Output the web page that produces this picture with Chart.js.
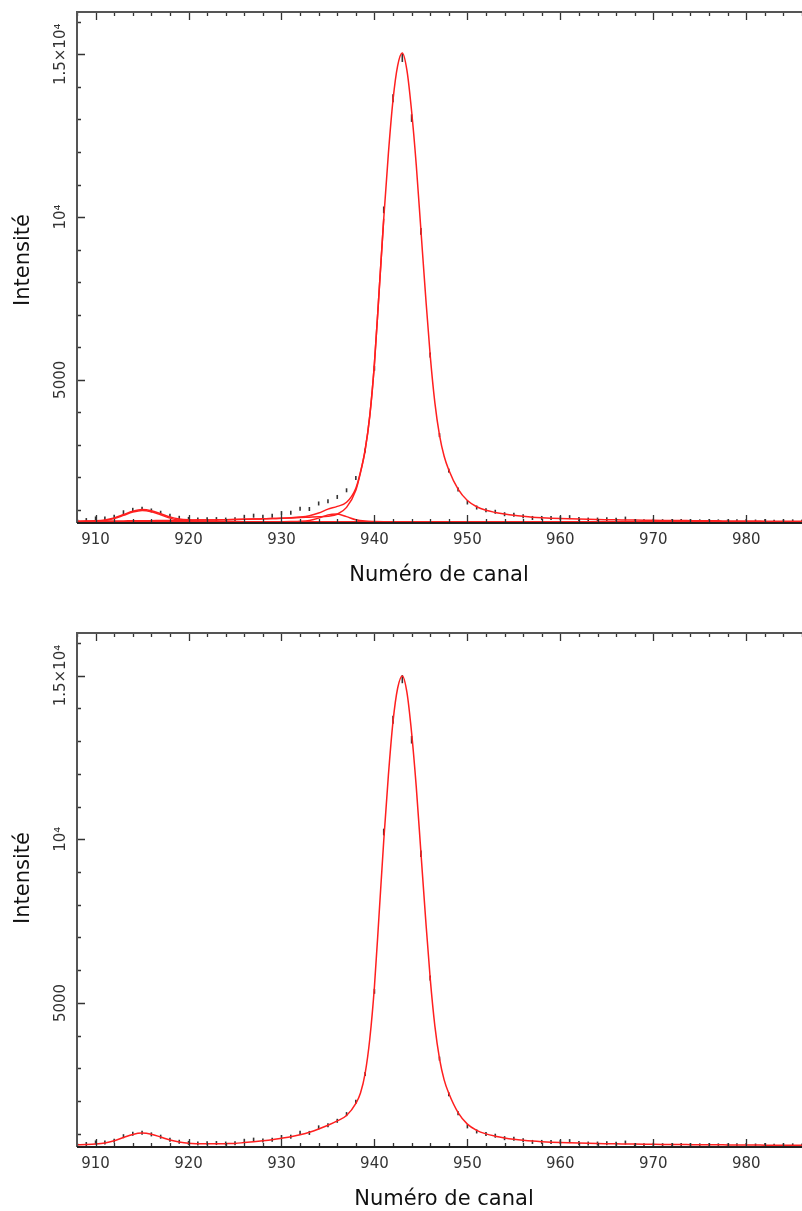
<!DOCTYPE html>
<html lang="fr">
<head>
<meta charset="utf-8">
<title>Intensité - Numéro de canal</title>
<script src="https://cdn.jsdelivr.net/npm/chart.js@4/dist/chart.umd.min.js"></script>
<style>
  html, body { margin: 0; padding: 0; background: #fff; }
  canvas { display: block; }
</style>
</head>
<body>
<canvas id="topChart" width="802" height="605"></canvas>
<canvas id="bottomChart" width="802" height="606"></canvas>
<script>
// Measured spectrum (one value per channel)
const channels = [909, 910, 911, 912, 913, 914, 915, 916, 917, 918, 919, 920, 921, 922, 923, 924, 925, 926, 927, 928,
  929, 930, 931, 932, 933, 934, 935, 936, 937, 938, 939, 940, 941, 942, 943, 944, 945, 946, 947, 948,
  949, 950, 951, 952, 953, 954, 955, 956, 957, 958, 959, 960, 961, 962, 963, 964, 965, 966, 967, 968,
  969, 970, 971, 972, 973, 974, 975, 976, 977, 978, 979, 980, 981, 982, 983, 984, 985, 986];
const counts = [690, 740, 735, 790, 930, 1005, 1035, 985, 915, 820, 760, 725, 705, 715, 720, 705, 715, 790, 825, 795,
  820, 905, 915, 1035, 1030, 1200, 1265, 1400, 1605, 1985, 2830, 5355, 10220, 13650, 14890, 13040, 9560, 5760, 3300, 2210,
  1630, 1230, 1075, 995, 945, 870, 850, 805, 755, 755, 750, 750, 780, 725, 705, 705, 712, 702, 735, 660,
  650, 670, 655, 650, 660, 655, 650, 655, 650, 645, 655, 660, 645, 650, 640, 645, 650, 640];

// Fit curves
const fitChannels = [908, 909, 910, 911, 912, 913, 914, 915, 916, 917, 918, 919, 920, 921, 922, 923, 924, 925, 926, 927,
  928, 929, 930, 931, 932, 933, 934, 935, 936, 937, 938,
  938.5, 939, 939.5, 940, 940.5, 941, 941.5, 942, 942.5, 943, 943.5, 944, 944.5, 945, 945.5, 946, 946.5, 947, 947.5, 948,
  949, 950, 951, 952, 953, 954, 955, 956, 957, 958, 959, 960, 961, 962, 963, 964, 965, 966, 967, 968,
  969, 970, 971, 972, 973, 974, 975, 976, 977, 978, 979, 980, 981, 982, 983, 984, 985, 986];
const fitTop = [655, 660, 668, 695, 757, 859, 962, 1014, 977, 885, 788, 726, 700, 693, 693, 696, 700, 705, 712, 720,
  729, 738, 746, 759, 781, 822, 905, 1025, 1110, 1235, 1670,
  2170, 2850, 3900, 5500, 7700, 9950, 11950, 13600, 14650, 15040, 14500, 13250, 11600, 9600, 7600, 5750, 4300, 3300, 2650, 2230,
  1640, 1290, 1100, 990, 925, 875, 835, 805, 780, 762, 748, 737, 728, 720, 713, 707, 702, 697, 693, 689,
  686, 683, 680, 677, 675, 672, 670, 668, 666, 664, 662, 660, 659, 657, 656, 654, 653, 652];
const fitBottom = [668, 675, 690, 722, 790, 890, 985, 1025, 990, 905, 815, 752, 712, 700, 697, 698, 702, 710, 735, 760,
  790, 825, 870, 915, 975, 1050, 1150, 1265, 1400, 1560, 1930,
  2250, 2850, 3900, 5500, 7700, 9950, 11950, 13600, 14620, 14990, 14480, 13250, 11600, 9600, 7600, 5750, 4300, 3300, 2650, 2240,
  1650, 1300, 1110, 1000, 930, 878, 838, 807, 782, 763, 748, 737, 728, 720, 713, 707, 702, 697, 693, 689,
  686, 683, 680, 677, 675, 672, 670, 668, 666, 664, 662, 660, 659, 657, 656, 654, 653, 652];

// Components of the top fit
const mainPeakChannels = [908, 909, 910, 911, 912, 913, 914, 915, 916, 917, 918, 919, 920, 921, 922, 923, 924, 925, 926, 927,
  928, 929, 930, 931, 932, 933, 934, 935, 936, 937, 938, 938.5, 939, 939.5, 940, 940.5, 941];
const mainPeak = [655, 657, 658, 660, 662, 664, 667, 669, 672, 675, 678, 681, 685, 689, 692, 696, 700, 705, 712, 720,
  729, 738, 745, 755, 768, 780, 792, 810, 870, 1080, 1610, 2150, 2840, 3890, 5495, 7700, 9950];
const peak915Channels = [908, 909, 910, 911, 912, 913, 914, 915, 916, 917, 918, 919, 920, 921, 922, 923, 924];
const peak915 = [640, 643, 650, 675, 735, 835, 935, 985, 945, 850, 750, 685, 655, 644, 641, 640, 640];
const peak935Channels = [928, 929, 930, 931, 932, 933, 934, 935, 936, 937, 938, 939, 940, 941, 942, 943, 944];
const peak935 = [640, 640, 641, 644, 652, 680, 750, 850, 875, 795, 700, 658, 646, 641, 640, 640, 640];
const baselineChannels = [908, 986];
const baseline = [640, 640];

// Axes
const xRange = [908, 986];
const yRange = [600, 16300];
const xTickValues = [910, 920, 930, 940, 950, 960, 970, 980];
const xTickLabels = ['910', '920', '930', '940', '950', '960', '970', '980'];
const yTickValues = [5000, 10000, 15000];
const yTickLabels = ['5000', '10\u2074', '1.5\u00d710\u2074'];
const xTitle = 'Numéro de canal';
const yTitle = 'Intensité';

const FONT = '"DejaVu Sans", "Noto Sans", sans-serif';
const RED = '#ff1f1f';

function toPoints(xs, ys) {
  return xs.map((x, i) => ({ x: x, y: ys[i] }));
}

// Frame with inward ticks, rotated y labels and axis titles
const frameAxes = {
  id: 'frameAxes',
  afterDatasetsDraw(chart, args, opts) {
    const { ctx, chartArea: a, scales: { x, y } } = chart;
    ctx.save();

    ctx.strokeStyle = '#333';
    ctx.lineWidth = 1.3;
    ctx.beginPath();
    for (let v = xRange[0]; v <= xRange[1]; v += 2) {
      const px = Math.round(x.getPixelForValue(v)) + 0.5;
      const len = v % 10 === 0 ? 8 : 4;
      ctx.moveTo(px, a.top);
      ctx.lineTo(px, a.top + len);
      ctx.moveTo(px, a.bottom);
      ctx.lineTo(px, a.bottom - len);
    }
    for (let v = 1000; v <= 16000; v += 1000) {
      const py = Math.round(y.getPixelForValue(v)) + 0.5;
      const len = v % 5000 === 0 ? 8 : 4;
      ctx.moveTo(a.left, py);
      ctx.lineTo(a.left + len, py);
    }
    ctx.stroke();

    // frame (right edge is outside the picture)
    ctx.strokeStyle = '#555';
    ctx.lineWidth = 2;
    ctx.beginPath();
    ctx.moveTo(a.right, a.top);
    ctx.lineTo(a.left, a.top);
    ctx.lineTo(a.left, a.bottom);
    ctx.stroke();
    ctx.strokeStyle = '#222';
    ctx.beginPath();
    ctx.moveTo(a.left, a.bottom);
    ctx.lineTo(a.right, a.bottom);
    ctx.stroke();

    // tick labels
    ctx.fillStyle = '#333';
    ctx.font = '15px ' + FONT;
    ctx.textAlign = 'center';
    ctx.textBaseline = 'middle';
    xTickValues.forEach((v, i) => {
      ctx.fillText(xTickLabels[i], x.getPixelForValue(v), a.bottom + 17);
    });
    yTickValues.forEach((v, i) => {
      ctx.save();
      ctx.translate(a.left - 16, y.getPixelForValue(v));
      ctx.rotate(-Math.PI / 2);
      ctx.fillText(yTickLabels[i], 0, 0);
      ctx.restore();
    });

    // axis titles
    ctx.fillStyle = '#111';
    ctx.font = '21px ' + FONT;
    ctx.fillText(xTitle, opts.xTitleX, a.bottom + 53);
    ctx.save();
    ctx.translate(24, opts.yTitleY);
    ctx.rotate(-Math.PI / 2);
    ctx.fillText(yTitle, 0, 0);
    ctx.restore();

    ctx.restore();
  }
};

function fitLine(xs, ys) {
  return {
    type: 'line',
    data: toPoints(xs, ys),
    borderColor: RED,
    borderWidth: 1.5,
    pointRadius: 0,
    fill: false,
    cubicInterpolationMode: 'monotone',
    order: 1
  };
}

function makeChart(id, fitDatasets, padBottom, padTop, xTitleX, yTitleY) {
  const ctx = document.getElementById(id).getContext('2d');
  return new Chart(ctx, {
    type: 'scatter',
    data: {
      datasets: fitDatasets.concat([{
        label: 'Mesure',
        data: toPoints(channels, counts),
        pointStyle: 'line',
        rotation: 90,
        radius: (c) => Math.max(2, Math.sqrt(c.raw ? c.raw.y : 700) / 30),
        borderColor: '#333',
        backgroundColor: '#333',
        borderWidth: 1.6,
        showLine: false,
        order: 2
      }])
    },
    options: {
      responsive: false,
      animation: false,
      events: [],
      layout: {
        autoPadding: false,
        padding: { left: 77, right: 0, top: padTop, bottom: padBottom }
      },
      scales: {
        x: { type: 'linear', min: xRange[0], max: xRange[1], display: false },
        y: { type: 'linear', min: yRange[0], max: yRange[1], display: false }
      },
      plugins: {
        legend: { display: false },
        tooltip: { enabled: false },
        frameAxes: { xTitleX: xTitleX, yTitleY: yTitleY }
      }
    },
    plugins: [frameAxes]
  });
}

document.addEventListener('DOMContentLoaded', () => {
  // Top: fit with separate components
  makeChart('topChart', [
    fitLine(baselineChannels, baseline),
    fitLine(peak915Channels, peak915),
    fitLine(peak935Channels, peak935),
    fitLine(mainPeakChannels, mainPeak),
    fitLine(fitChannels, fitTop)
  ], 82, 12, 439, 260);

  // Bottom: final fit only
  makeChart('bottomChart', [
    fitLine(fitChannels, fitBottom)
  ], 64, 28, 444, 273);
});
</script>
</body>
</html>
